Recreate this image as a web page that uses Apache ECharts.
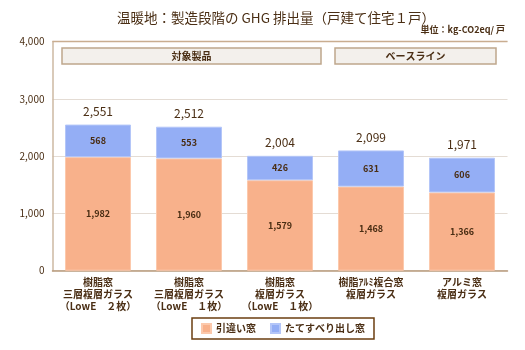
<!DOCTYPE html>
<html><head><meta charset="utf-8">
<script src="https://cdn.jsdelivr.net/npm/echarts@6/dist/echarts.min.js"></script>
<style>html,body{margin:0;padding:0;background:#fff}#c{width:525px;height:350px}</style>
</head><body><div id="c"></div>
<script>
const categories = ['樹脂窓\n三層複層ガラス\n（LowE　２枚）','樹脂窓\n三層複層ガラス\n（LowE　１枚）','樹脂窓\n複層ガラス\n（LowE　１枚）','樹脂ｱﾙﾐ複合窓\n複層ガラス','アルミ窓\n複層ガラス'];
const slidingWindow = [1982,1960,1579,1468,1366];
const casementWindow = [568,553,426,631,606];
const totals = [2551,2512,2004,2099,1971];
const seriesNames = ['引違い窓','たてすべり出し窓'];
const yTicks = [0,1000,2000,3000,4000];
const groupLabels = ['対象製品','ベースライン'];

const FONT = '"Noto Sans CJK JP","Noto Sans",sans-serif';
const TXT = '#4a2e14';
const fmt = v => v.toLocaleString('en-US');
const chart = echarts.init(document.getElementById('c'));
chart.setOption({
  animation:false,
  textStyle:{fontFamily:FONT},
  title:{text:'温暖地：製造段階の GHG 排出量（戸建て住宅１戸）',left:271,textAlign:'center',top:6,
    textStyle:{fontSize:13.5,fontWeight:'normal',color:'#4a2e14',fontFamily:FONT}},
  grid:{left:52.5,width:455,top:41.5,bottom:79.3,show:false},
  legend:{data:seriesNames,left:192,top:318,orient:'horizontal',padding:[5,9,5,9],
    borderColor:'#6b3e10',borderWidth:1.5,itemWidth:9,itemHeight:9,itemGap:14,icon:'rect',
    textStyle:{fontSize:10,fontWeight:'bold',color:TXT,fontFamily:FONT}},
  xAxis:{type:'category',data:categories,
    axisLine:{lineStyle:{color:'#b89a7c',width:1.5}},axisTick:{show:false},
    axisLabel:{fontSize:10,fontWeight:'bold',color:TXT,lineHeight:12,margin:6,interval:0,fontFamily:FONT}},
  yAxis:{type:'value',min:yTicks[0],max:yTicks[yTicks.length-1],interval:1000,
    axisLine:{show:true,lineStyle:{color:'#cdb8a2',width:1.5}},axisTick:{show:false},
    splitLine:{lineStyle:{color:'#e4dcd4',width:1.2}},
    axisLabel:{fontSize:10,color:TXT,margin:8,formatter:v=>fmt(v),fontFamily:FONT}},
  graphic:[
    {type:'line',shape:{x1:52.5,y1:41.5,x2:507.5,y2:41.5},style:{stroke:'#c9ad90',lineWidth:1.5},z:10},
    {type:'rect',shape:{x:62,y:48,width:259,height:16},style:{fill:'#f3f0ec',stroke:'#bfa68c',lineWidth:1.5},z:10},
    {type:'text',x:191.5,y:56,style:{text:groupLabels[0],align:'center',verticalAlign:'middle',font:'bold 10px '+FONT,fill:TXT},z:11},
    {type:'rect',shape:{x:335,y:48,width:161,height:16},style:{fill:'#f3f0ec',stroke:'#bfa68c',lineWidth:1.5},z:10},
    {type:'text',x:415.5,y:56,style:{text:groupLabels[1],align:'center',verticalAlign:'middle',font:'bold 10px '+FONT,fill:TXT},z:11},
    {type:'text',right:20,top:25,style:{text:'単位：kg-CO2eq/ 戸',font:'bold 9px '+FONT,fill:TXT},z:11}
  ],
  series:[
    {name:seriesNames[0],type:'bar',stack:'s',data:slidingWindow,barWidth:66,
      itemStyle:{color:'#f8b18b',borderColor:'#fcc9ac',borderWidth:1},
      label:{show:true,position:'inside',fontSize:9,fontWeight:'bold',color:TXT,formatter:p=>fmt(p.value)}},
    {name:seriesNames[1],type:'bar',stack:'s',data:casementWindow,barWidth:66,
      itemStyle:{color:'#94aef5',borderColor:'#b4c6f8',borderWidth:1},
      label:{show:true,position:'inside',fontSize:9,fontWeight:'bold',color:TXT,formatter:p=>fmt(p.value)}},
    {name:'total',type:'bar',stack:'s',data:totals.map(()=>0),barWidth:66,
      itemStyle:{color:'transparent'},
      label:{show:true,position:'top',distance:7,fontSize:12,color:TXT,formatter:p=>fmt(totals[p.dataIndex])}}
  ]
});
</script></body></html>
